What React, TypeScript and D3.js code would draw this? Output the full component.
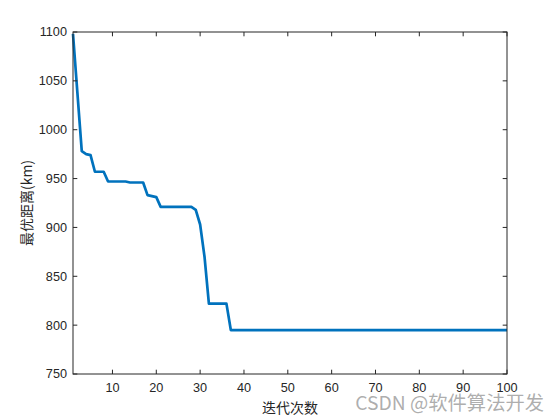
import React from "react";
import * as d3 from "d3";

const iterations: number[] = d3.range(1, 101);
const bestDistance: number[] = [
  1098, 1038, 978, 975, 974, 957, 957, 957, 947, 947,
  947, 947, 947, 946, 946, 946, 946, 933, 932, 931,
  921, 921, 921, 921, 921, 921, 921, 921, 918, 903,
  870, 822, 822, 822, 822, 822, 795, 795, 795, 795,
  795, 795, 795, 795, 795, 795, 795, 795, 795, 795,
  795, 795, 795, 795, 795, 795, 795, 795, 795, 795,
  795, 795, 795, 795, 795, 795, 795, 795, 795, 795,
  795, 795, 795, 795, 795, 795, 795, 795, 795, 795,
  795, 795, 795, 795, 795, 795, 795, 795, 795, 795,
  795, 795, 795, 795, 795, 795, 795, 795, 795, 795,
];
const xTicks: number[] = [10, 20, 30, 40, 50, 60, 70, 80, 90, 100];
const yTicks: number[] = [750, 800, 850, 900, 950, 1000, 1050, 1100];
const xLabel = "迭代次数";
const yLabel = "最优距离(km)";
const watermark = "CSDN @软件算法开发";

const W = 560;
const H = 420;
const L = 73;
const R = 507;
const T = 32;
const B = 374;
const TICK = 4.3;
const AX = "#262626";
const FONT = "'Liberation Sans', Arial, sans-serif";
const CJK = "'Noto Sans CJK SC', 'Noto Sans', sans-serif";

export default function App() {
  const x = d3.scaleLinear().domain([1, 100]).range([L, R]);
  const y = d3.scaleLinear().domain([750, 1100]).range([B, T]);
  const line = d3
    .line<number>()
    .x((_, i) => x(iterations[i]))
    .y((d) => y(d));

  return (
    <svg
      width={W}
      height={H}
      style={{ position: "absolute", left: 0, top: 0, background: "#fff" }}
    >
      <rect x={0} y={0} width={W} height={H} fill="#fff" />
      <rect x={L} y={T} width={R - L} height={B - T} fill="#fff" />
      <path
        d={line(bestDistance) || ""}
        fill="none"
        stroke="#0072BD"
        strokeWidth={2.7}
        strokeLinejoin="round"
      />
      <rect
        x={L}
        y={T}
        width={R - L}
        height={B - T}
        fill="none"
        stroke={AX}
        strokeWidth={1}
      />
      {xTicks.map((t) => (
        <g key={"x" + t}>
          <line x1={x(t)} x2={x(t)} y1={B} y2={B - TICK} stroke={AX} strokeWidth={1} />
          <line x1={x(t)} x2={x(t)} y1={T} y2={T + TICK} stroke={AX} strokeWidth={1} />
          <text
            x={x(t)}
            y={B + 18}
            textAnchor="middle"
            fontFamily={FONT}
            fontSize={12.7}
            fill={AX}
          >
            {t}
          </text>
        </g>
      ))}
      {yTicks.map((t) => (
        <g key={"y" + t}>
          <line x1={L} x2={L + TICK} y1={y(t)} y2={y(t)} stroke={AX} strokeWidth={1} />
          <line x1={R} x2={R - TICK} y1={y(t)} y2={y(t)} stroke={AX} strokeWidth={1} />
          <text
            x={L - 6}
            y={y(t)}
            dy="0.35em"
            textAnchor="end"
            fontFamily={FONT}
            fontSize={12.7}
            fill={AX}
          >
            {t}
          </text>
        </g>
      ))}
      <text
        x={(L + R) / 2}
        y={408}
        dy="0.35em"
        textAnchor="middle"
        fontFamily={CJK}
        fontSize={14}
        fill={AX}
      >
        {xLabel}
      </text>
      <text
        transform={`translate(27,${(T + B) / 2}) rotate(-90)`}
        dy="0.35em"
        textAnchor="middle"
        fontFamily={CJK}
        fontSize={14}
        fill={AX}
      >
        {yLabel}
      </text>
      <text
        x={544}
        y={403}
        dy="0.35em"
        textAnchor="end"
        fontFamily={CJK}
        fontSize={19.3}
        fill="#a0a0a0"
        fillOpacity={0.85}
      >
        {watermark}
      </text>
    </svg>
  );
}
